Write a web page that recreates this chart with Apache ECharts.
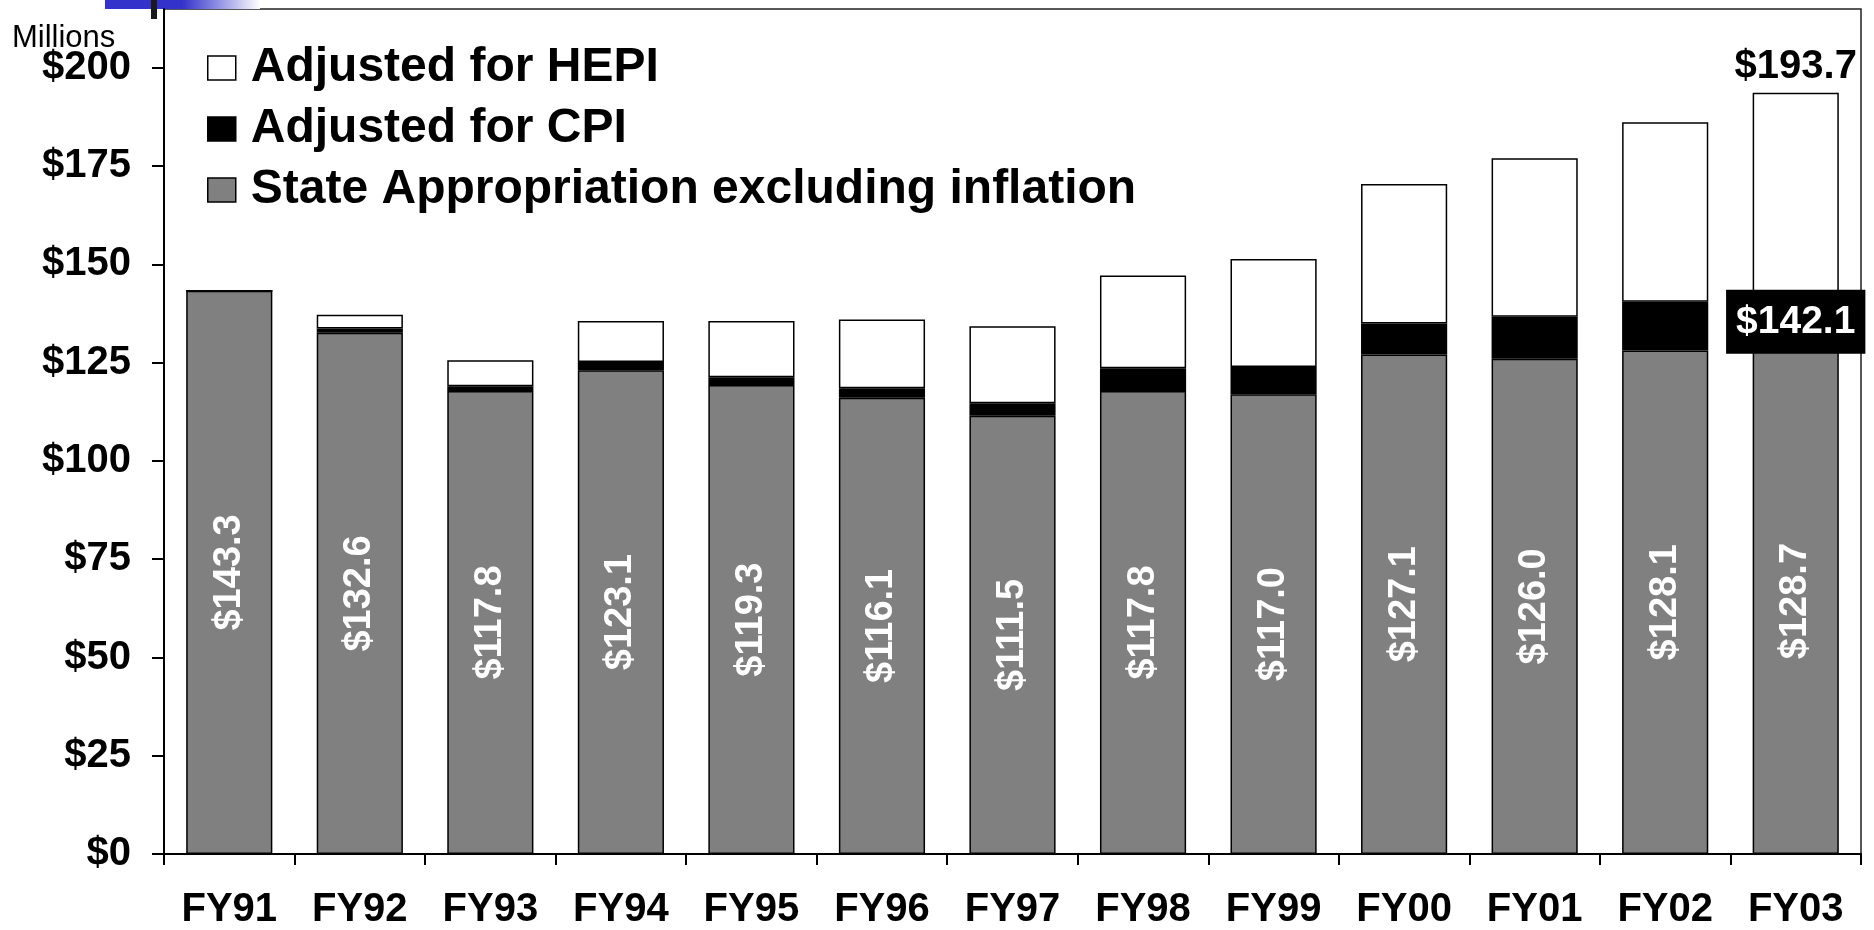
<!DOCTYPE html>
<html>
<head>
<meta charset="utf-8">
<script src="https://cdn.jsdelivr.net/npm/echarts@6/dist/echarts.min.js"></script>
<style>
html,body{margin:0;padding:0;background:#fff;}
#chart{width:1874px;height:930px;}
</style>
</head>
<body>
<div id="chart"></div>
<script>
var categories = ['FY91','FY92','FY93','FY94','FY95','FY96','FY97','FY98','FY99','FY00','FY01','FY02','FY03'];
// State appropriation excluding inflation (labelled values)
var baseValues = [143.3,132.6,117.8,123.1,119.3,116.1,111.5,117.8,117.0,127.1,126.0,128.1,128.7];
// Cumulative totals
var cpiTotals  = [143.3,133.7,119.0,125.2,121.3,118.5,114.7,123.6,123.9,135.0,136.7,140.5,142.1];
var hepiTotals = [143.3,137.2,125.6,135.6,135.6,136.0,134.3,147.2,151.4,170.5,177.0,186.2,193.7];
var yTickValues = [0,25,50,75,100,125,150,175,200];
var seriesNames = ['Adjusted for HEPI','Adjusted for CPI','State Appropriation excluding inflation'];

var FONT = 'Liberation Sans, Arial, Helvetica, sans-serif';
var lastIdx = categories.length - 1;

var cpiSeg = cpiTotals.map(function(v,i){ return +(v - baseValues[i]).toFixed(2); });
var hepiSeg = hepiTotals.map(function(v,i){ return +(v - cpiTotals[i]).toFixed(2); });

var baseData = baseValues.map(function(v){ return {value:v}; });
var cpiData = cpiSeg.map(function(v,i){
  var d = {value:v};
  if (i === lastIdx) {
    d.label = {show:true, position:'inside', color:'#fff', backgroundColor:'#000',
      fontFamily:FONT, fontWeight:'bold', fontSize:39, padding:[13,10,12,10],
      formatter:function(p){ return '$' + cpiTotals[p.dataIndex].toFixed(1); }};
  }
  return d;
});
var hepiData = hepiSeg.map(function(v,i){
  var d = {value:v};
  if (i === lastIdx) {
    d.label = {show:true, position:'top', distance:6, color:'#000',
      fontFamily:FONT, fontWeight:'bold', fontSize:40,
      formatter:function(p){ return '$' + hepiTotals[p.dataIndex].toFixed(1); }};
  }
  return d;
});

var chart = echarts.init(document.getElementById('chart'), null, {renderer:'canvas'});
var option = {
  animation:false,
  backgroundColor:'#fff',
  title:{text:'Millions', left:7, top:18,
    textStyle:{fontFamily:FONT, fontSize:31, fontWeight:'normal', color:'#000'}},
  graphic:[
    {type:'rect', left:105, top:0, shape:{width:155, height:9}, silent:true,
      style:{fill:new echarts.graphic.LinearGradient(0,0,1,0,[
        {offset:0, color:'#3333cc'},{offset:0.5, color:'#3333cc'},{offset:1, color:'#ffffff'}])}},
    {type:'rect', left:151, top:0, shape:{width:6, height:19}, silent:true, style:{fill:'#1a1a1a'}}
  ],
  legend:{
    data:seriesNames,
    orient:'vertical', left:202, top:39,
    itemWidth:28, itemHeight:24, itemGap:13,
    icon:'rect',
    itemStyle:{borderColor:'#000', borderWidth:1.5},
    textStyle:{fontFamily:FONT, fontWeight:'bold', fontSize:48, color:'#000', padding:[0,0,0,10]}
  },
  grid:{left:164, right:13, top:9, bottom:74, show:true, borderColor:'#222', borderWidth:1.5, containLabel:false},
  xAxis:{
    type:'category', data:categories, boundaryGap:true,
    axisLine:{lineStyle:{color:'#000', width:2}},
    axisTick:{show:true, alignWithLabel:false, length:11, lineStyle:{color:'#000', width:2}},
    axisLabel:{fontFamily:FONT, fontWeight:'bold', fontSize:40, color:'#000', margin:36, interval:0},
    splitLine:{show:false}
  },
  yAxis:{
    type:'value', min:0, max:215,
    axisLine:{show:true, lineStyle:{color:'#000', width:2}},
    axisTick:{show:true, length:12, customValues:yTickValues, lineStyle:{color:'#000', width:2}},
    axisLabel:{fontFamily:FONT, fontWeight:'bold', fontSize:40, color:'#000', margin:33,
      customValues:yTickValues, formatter:function(v){ return '$' + v; }},
    splitLine:{show:false}
  },
  series:[
    {name:seriesNames[2], type:'bar', stack:'total', barWidth:'66%', data:baseData,
      itemStyle:{color:'#808080', borderColor:'#000', borderWidth:1.5},
      label:{show:true, position:'inside', rotate:90, color:'#fff', fontFamily:FONT,
        fontWeight:'bold', fontSize:38,
        formatter:function(p){ return '$' + baseValues[p.dataIndex].toFixed(1); }}},
    {name:seriesNames[1], type:'bar', stack:'total', data:cpiData,
      itemStyle:{color:'#000', borderColor:'#000', borderWidth:1.5}},
    {name:seriesNames[0], type:'bar', stack:'total', data:hepiData,
      itemStyle:{color:'#fff', borderColor:'#000', borderWidth:1.5}}
  ]
};
chart.setOption(option);
</script>
</body>
</html>
